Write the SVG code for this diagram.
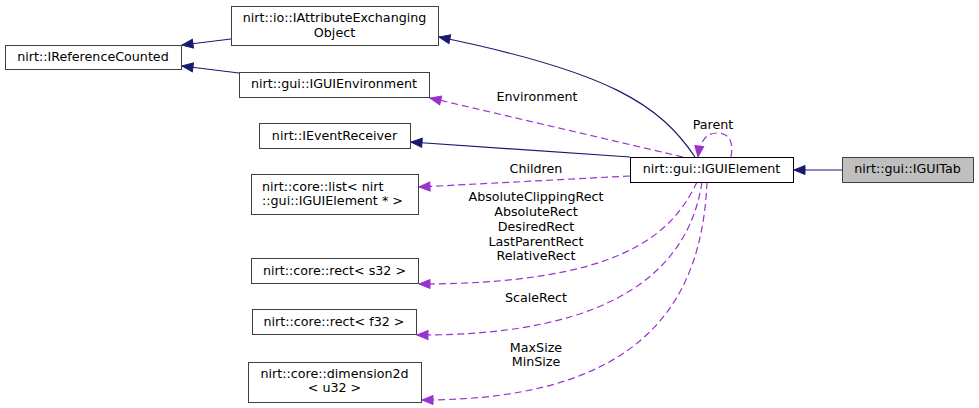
<svg xmlns="http://www.w3.org/2000/svg" width="979" height="408" viewBox="0 0 979 408">
<style>
.n rect{fill:#fff;stroke:#404040;stroke-width:1}
.n text{font-family:"DejaVu Sans",sans-serif;font-size:12.7px;fill:#000;text-anchor:middle}
.l{font-family:"DejaVu Sans",sans-serif;font-size:12.7px;fill:#000;text-anchor:middle}
.inh{fill:none;stroke:#191970;stroke-width:1.2}
.use{fill:none;stroke:#9a32cd;stroke-width:1.2;stroke-dasharray:7,4}
</style>
<defs>
<marker id="ab" markerUnits="userSpaceOnUse" markerWidth="14" markerHeight="12" refX="12" refY="5.5" orient="auto" viewBox="0 0 14 12">
<polygon points="1,1 12,5.5 1,10" fill="#191970" stroke="#191970" stroke-width="1"/>
</marker>
<marker id="ap" markerUnits="userSpaceOnUse" markerWidth="14" markerHeight="12" refX="12" refY="5.5" orient="auto" viewBox="0 0 14 12">
<polygon points="1,1 12,5.5 1,10" fill="#9a32cd" stroke="#9a32cd" stroke-width="1"/>
</marker>
</defs>
<g id="connectors">
<path class="inh" d="M842,170 L794,170" marker-end="url(#ab)"/>
<path class="inh" d="M231,39 L182,45" marker-end="url(#ab)"/>
<path class="inh" d="M239,73 L182,66" marker-end="url(#ab)"/>
<path class="inh" d="M695,157 C660,105 610,72 439,37" marker-end="url(#ab)"/>
<path class="inh" d="M630,157 L411,142" marker-end="url(#ab)"/>
<path class="use" d="M683,157 L430,98" marker-end="url(#ap)"/>
<path class="use" d="M630,176 L419,187" marker-end="url(#ap)"/>
<path class="use" d="M731,157 C734,140 728,133 717,133 C707,133 700,140 698,157" marker-end="url(#ap)"/>
<path class="use" d="M697,182 C672,235 620,284 419,284" marker-end="url(#ap)"/>
<path class="use" d="M702,182 C690,262 625,336 417,335" marker-end="url(#ap)"/>
<path class="use" d="M707,182 C702,300 645,400 422,400" marker-end="url(#ap)"/>
<text class="l" x="537" y="101">Environment</text>
<text class="l" x="536" y="173">Children</text>
<text class="l" x="713" y="129">Parent</text>
<text class="l" x="536" y="201">AbsoluteClippingRect</text>
<text class="l" x="536" y="216">AbsoluteRect</text>
<text class="l" x="536" y="231">DesiredRect</text>
<text class="l" x="536" y="246">LastParentRect</text>
<text class="l" x="536" y="260">RelativeRect</text>
<text class="l" x="536" y="302">ScaleRect</text>
<text class="l" x="536" y="352">MaxSize</text>
<text class="l" x="536" y="366">MinSize</text>
</g>
<g id="IGUITab" class="n"><rect x="842.5" y="157.5" width="131" height="25" style="fill:#bfbfbf"/><text x="907.5" y="173">nirt::gui::IGUITab</text></g>
<g id="IGUIElement" class="n"><rect x="630.5" y="157.5" width="163" height="25" style="stroke:#000"/><text x="711.5" y="173">nirt::gui::IGUIElement</text></g>
<g id="IAttributeExchangingObject" class="n"><rect x="231.5" y="6.5" width="207" height="39"/><text x="334.5" y="22">nirt::io::IAttributeExchanging</text><text x="334.5" y="37">Object</text></g>
<g id="IReferenceCounted" class="n"><rect x="5.5" y="45.5" width="176" height="24"/><text x="93" y="61">nirt::IReferenceCounted</text></g>
<g id="IGUIEnvironment" class="n"><rect x="239.5" y="72.5" width="190" height="25"/><text x="334" y="88">nirt::gui::IGUIEnvironment</text></g>
<g id="IEventReceiver" class="n"><rect x="259.5" y="123.5" width="151" height="25"/><text x="334.5" y="140">nirt::IEventReceiver</text></g>
<g id="list" class="n"><rect x="251.5" y="174.5" width="167" height="40"/><text x="262" y="190.5" style="text-anchor:start">nirt::core::list&lt; nirt</text><text x="262" y="205" style="text-anchor:start">::gui::IGUIElement * &gt;</text></g>
<g id="rect_s32" class="n"><rect x="251.5" y="258.5" width="167" height="25"/><text x="334.5" y="275">nirt::core::rect&lt; s32 &gt;</text></g>
<g id="rect_f32" class="n"><rect x="252.5" y="309.5" width="164" height="25"/><text x="334" y="326">nirt::core::rect&lt; f32 &gt;</text></g>
<g id="dimension2d" class="n"><rect x="248.5" y="362.5" width="173" height="40"/><text x="334.5" y="378">nirt::core::dimension2d</text><text x="334.5" y="392">&lt; u32 &gt;</text></g>
</svg>
